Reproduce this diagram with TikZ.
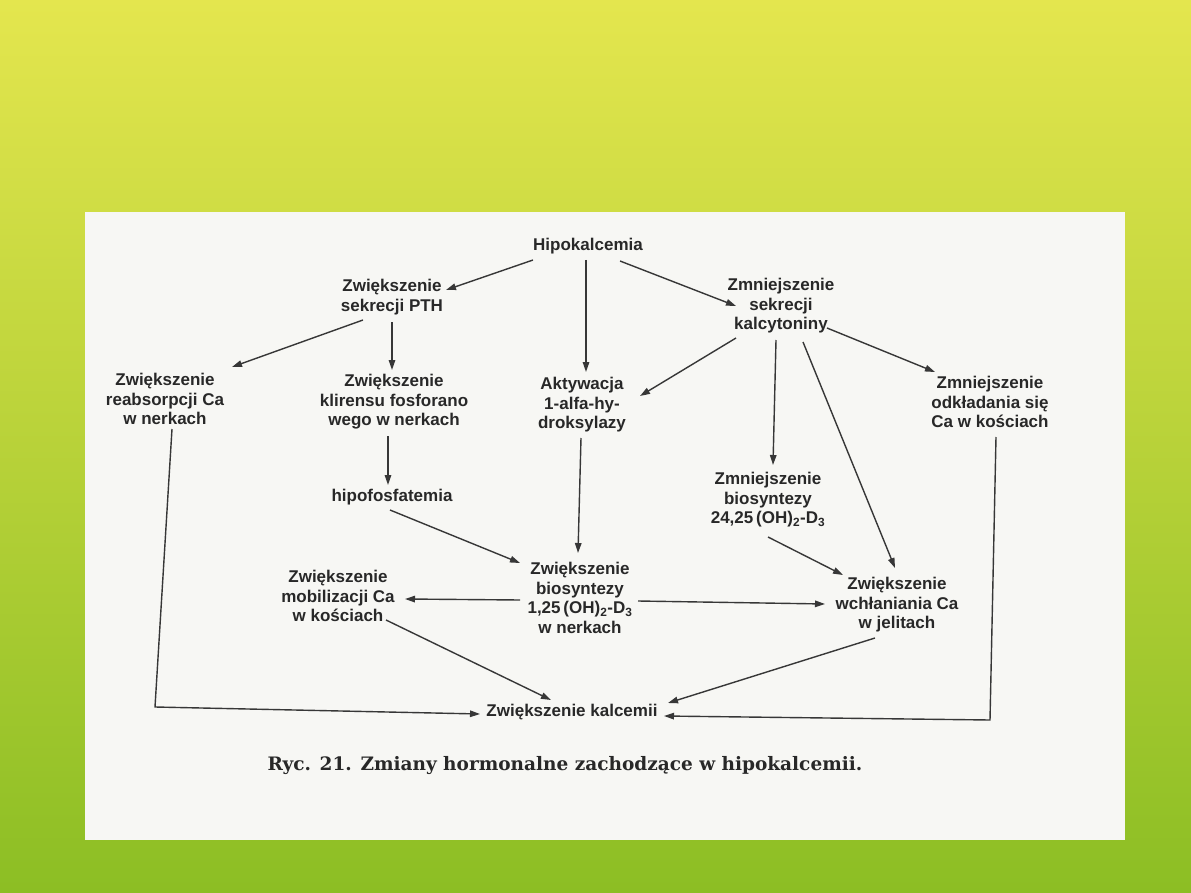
\documentclass[tikz,border=0pt]{standalone}
\usepackage{fontspec}
\setmainfont{Liberation Sans}
\newfontfamily\capfont{DejaVu Serif}
\usetikzlibrary{arrows.meta,calc}
\definecolor{bgtop}{RGB}{228,230,78}
\definecolor{bgbot}{RGB}{140,190,36}
\definecolor{paper}{RGB}{247,247,244}
\definecolor{ink}{RGB}{40,40,40}
\definecolor{lineink}{RGB}{55,55,55}
\begin{document}
\begin{tikzpicture}[x=1pt,y=-1pt,
  lbl/.style={font=\bfseries\fontsize{17}{19.5}\selectfont, align=center, inner sep=1pt, text=ink},
  arr/.style={draw=lineink, line width=1.4pt, -{Triangle[length=10pt,width=6.5pt]}},
  plain/.style={draw=lineink, line width=1.4pt}]
\shade[top color=bgtop, bottom color=bgbot] (0,0) rectangle (1191,893);
\fill[paper] (85,212) rectangle (1125,840);

\node[lbl] (hipo) at (588,246) {Hipokalcemia};
\node[lbl] (pth) at (392,297) {Zwiększenie\\sekrecji PTH};
\node[lbl] (kalc) at (781,306) {Zmniejszenie\\sekrecji\\kalcytoniny};
\node[lbl] (reab) at (165,399) {Zwiększenie\\reabsorpcji Ca\\w nerkach};
\node[lbl] (klir) at (394,402) {Zwiększenie\\klirensu fosforano\\wego w nerkach};
\node[lbl] (akt) at (582,405) {Aktywacja\\1-alfa-hy-\\droksylazy};
\node[lbl] (odkl) at (990,402) {Zmniejszenie\\odkładania się\\Ca w kościach};
\node[lbl] (hipof) at (392,497) {hipofosfatemia};
\node[lbl] (bio24) at (768,500) {Zmniejszenie\\biosyntezy\\24,25\,(OH)\textsubscript{2}-D\textsubscript{3}};
\node[lbl] (bio1) at (580,598) {Zwiększenie\\biosyntezy\\1,25\,(OH)\textsubscript{2}-D\textsubscript{3}\\w nerkach};
\node[lbl] (mobil) at (338,596) {Zwiększenie\\mobilizacji Ca\\w kościach};
\node[lbl] (wchl) at (897,605) {Zwiększenie\\wchłaniania Ca\\w jelitach};
\node[lbl] (kal) at (572,712) {Zwiększenie kalcemii};
\node[font=\capfont\bfseries\fontsize{18.5}{22}\selectfont, text=ink] (cap) at (565,766) {Ryc. 21. Zmiany hormonalne zachodzące w hipokalcemii.};

\draw[arr] ($(hipo)+(-55,14)$) -- ($(pth)+(54,-7)$);
\draw[arr] ($(hipo)+(-2,14)$) -- ($(akt)+(4,-33)$);
\draw[arr] ($(hipo)+(32,15)$) -- ($(kalc)+(-45,0)$);
\draw[arr] ($(pth)+(-29,23)$) -- ($(reab)+(67,-32)$);
\draw[arr] ($(pth)+(0,25)$) -- ($(klir)+(-2,-32)$);
\draw[arr] ($(kalc)+(-45,32)$) -- ($(akt)+(58,-9)$);
\draw[arr] ($(kalc)+(-5,34)$) -- ($(bio24)+(5,-35)$);
\draw[arr] ($(kalc)+(22,36)$) -- ($(wchl)+(-2,-37)$);
\draw[arr] ($(kalc)+(46,22)$) -- ($(odkl)+(-55,-30)$);
\draw[arr] ($(klir)+(-6,34)$) -- ($(hipof)+(-4,-12)$);
\draw[arr] ($(hipof)+(-2,13)$) -- ($(bio1)+(-60,-35)$);
\draw[arr] ($(akt)+(-1,33)$) -- ($(bio1)+(-2,-45)$);
\draw[arr] ($(bio24)+(0,37)$) -- ($(wchl)+(-54,-30)$);
\draw[arr] ($(bio1)+(-60,2)$) -- ($(mobil)+(67,3)$);
\draw[arr] ($(bio1)+(58,3)$) -- ($(wchl)+(-72,-1)$);
\draw[arr] ($(mobil)+(48,24)$) -- ($(kal)+(-21,-12)$);
\draw[arr] ($(wchl)+(-22,33)$) -- ($(kal)+(96,-9)$);
\coordinate (c1) at (155,707);
\coordinate (c2) at (990,720);
\draw[arr] ($(reab)+(7,30)$) -- (c1) -- ($(kal)+(-92,2)$);
\draw[arr] ($(odkl)+(6,35)$) -- (c2) -- ($(kal)+(92,4)$);
\end{tikzpicture}
\end{document}
